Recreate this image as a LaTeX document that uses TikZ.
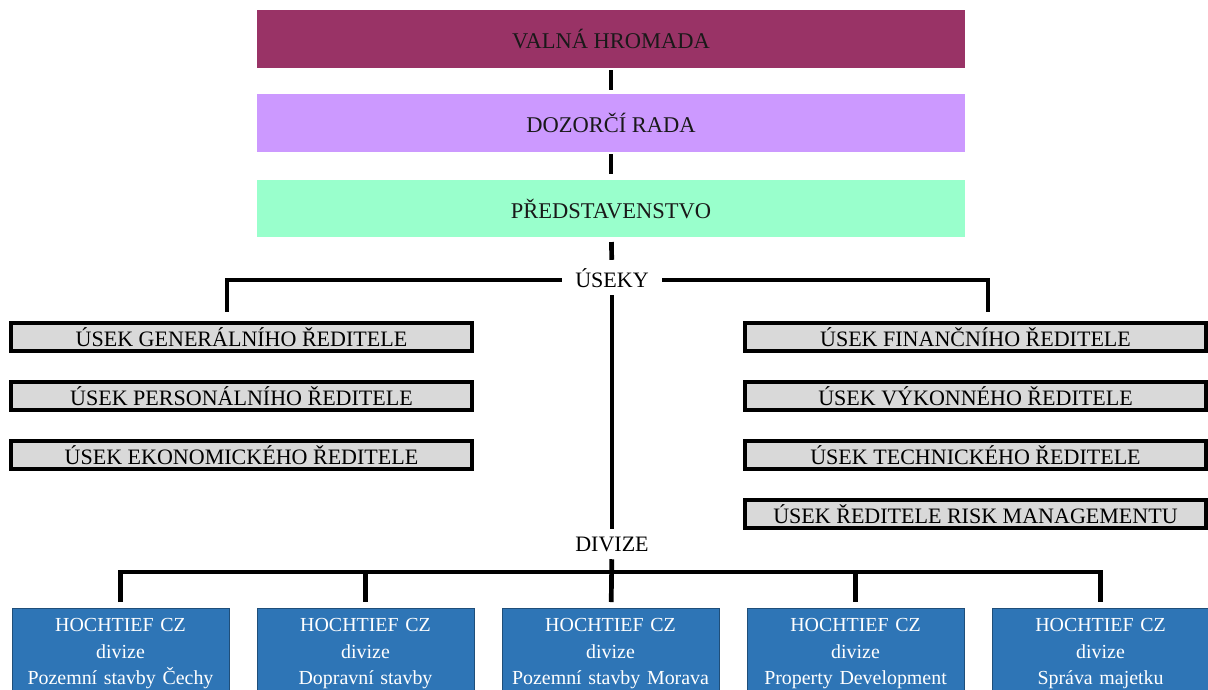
\documentclass[tikz,border=0pt]{standalone}
\usepackage{fontspec}
\setmainfont{Liberation Serif}
\usepackage{tikz}
\usetikzlibrary{positioning}
\definecolor{valna}{HTML}{993366}
\definecolor{dozor}{HTML}{CC99FF}
\definecolor{predst}{HTML}{99FFCC}
\definecolor{usekfill}{HTML}{D9D9D9}
\definecolor{divfill}{HTML}{2E75B6}
\definecolor{divline}{HTML}{1F4E79}
\tikzset{
  organ/.style={minimum width=21.24cm, minimum height=1.74cm, inner sep=0pt, outer sep=0pt,
    text=black!90, font=\fontsize{19.2}{22}\selectfont},
  usekbox/.style={draw=black, line width=3pt, fill=usekfill, minimum width=13.83cm,
    minimum height=0.84cm, inner sep=0pt, outer sep=0pt, font=\fontsize{18.8}{22}\selectfont},
  divbox/.style={draw=divline, line width=0.8pt, fill=divfill, text=white, text width=6.3cm,
    align=center, minimum width=6.51cm, inner xsep=0pt, inner ysep=0.32cm, outer sep=0pt,
    anchor=north, font=\fontsize{17}{22.6}\selectfont},
  heading/.style={text height=0.45cm, text depth=0pt, inner xsep=0.4cm, inner ysep=0.225cm,
    font=\fontsize{18.8}{22}\selectfont},
  link/.style={line width=4pt},
}
\begin{document}
\begin{tikzpicture}[x=0.03cm, y=-0.03cm]
  \useasboundingbox (0,0) rectangle (1208,689);
  \clip (0,0) rectangle (1208,689);

  \node[organ, fill=valna] (vh) at (611,39) {VALNÁ HROMADA};
  \node[organ, fill=dozor, below=0.78cm of vh] (dr) {DOZORČÍ RADA};
  \node[organ, fill=predst, below=0.84cm of dr, minimum height=1.71cm] (ps) {PŘEDSTAVENSTVO};

  \node[heading] (usek) at (612,280) {ÚSEKY};
  \node[heading] (div) at (612,544) {DIVIZE};

  \node[usekbox] (u1) at (241.5,337) {ÚSEK GENERÁLNÍHO ŘEDITELE};
  \node[usekbox, below=0.93cm of u1] (u2) {ÚSEK PERSONÁLNÍHO ŘEDITELE};
  \node[usekbox, below=0.93cm of u2] (u3) {ÚSEK EKONOMICKÉHO ŘEDITELE};

  \node[usekbox] (u4) at (975.5,337) {ÚSEK FINANČNÍHO ŘEDITELE};
  \node[usekbox, below=0.93cm of u4] (u5) {ÚSEK VÝKONNÉHO ŘEDITELE};
  \node[usekbox, below=0.93cm of u5] (u6) {ÚSEK TECHNICKÉHO ŘEDITELE};
  \node[usekbox, below=0.93cm of u6] (u7) {ÚSEK ŘEDITELE RISK MANAGEMENTU};

  \node[divbox] (d1) at (120.5,608) {HOCHTIEF CZ\\divize\\Pozemní stavby Čechy};
  \node[divbox, right=0.84cm of d1] (d2) {HOCHTIEF CZ\\divize\\Dopravní stavby};
  \node[divbox, right=0.84cm of d2] (d3) {HOCHTIEF CZ\\divize\\Pozemní stavby Morava};
  \node[divbox, right=0.84cm of d3] (d4) {HOCHTIEF CZ\\divize\\Property Development};
  \node[divbox, right=0.84cm of d4] (d5) {HOCHTIEF CZ\\divize\\Správa majetku};

  \coordinate (lk) at (227,312);
  \coordinate (rk) at (988,312);
  \coordinate (bar) at (612,572);

  \draw[link, shorten <=0.06cm, shorten >=0.12cm] (vh) -- (dr);
  \draw[link, shorten <=0.06cm, shorten >=0.18cm] (dr) -- (ps);
  \draw[link, shorten <=0.15cm, shorten >=0.15cm] (ps) -- (usek);
  \draw[link] (usek) -- (div);
  \draw[link] (usek.west) -| (lk);
  \draw[link] (usek.east) -| (rk);

  \draw[link, shorten <=0.18cm, shorten >=0.18cm] (d1.north) |- (bar) -| (d5.north);
  \foreach \dv in {d2,d4} \draw[link, shorten >=0.18cm] (bar) -| (\dv.north);
  \draw[link, shorten >=0.18cm] (div) -- (d3);
\end{tikzpicture}
\end{document}
